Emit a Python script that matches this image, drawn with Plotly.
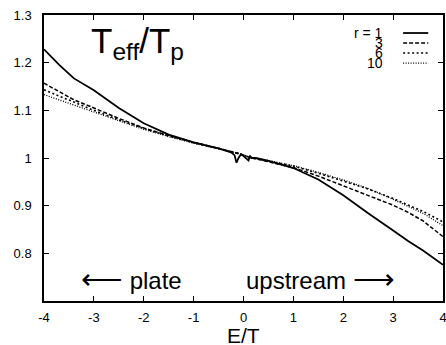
import plotly.graph_objects as go

# E/T grid (shared)
E = [-4, -3.7, -3.4, -3, -2.5, -2, -1.5, -1, -0.5, -0.25, -0.18, -0.14, -0.1, -0.05,
     0, 0.05, 0.1, 0.13, 0.16, 0.25, 0.5, 1, 1.5, 2, 2.5, 3, 3.3, 3.6, 4]

r1 = [1.228, 1.196, 1.167, 1.142, 1.105, 1.073, 1.049, 1.033, 1.020, 1.012, 1.006, 0.990, 1.000, 1.008,
      1.004, 1.000, 0.995, 1.005, 1.000, 1.000, 0.994, 0.979, 0.955, 0.922, 0.884, 0.848, 0.826, 0.806, 0.776]
r3 = [1.157, 1.140, 1.122, 1.105, 1.083, 1.063, 1.047, 1.033, 1.021, 1.014, 1.012, 1.011, 1.010, 1.008,
      1.006, 1.004, 1.002, 1.001, 1.000, 0.998, 0.992, 0.980, 0.962, 0.942, 0.922, 0.901, 0.886, 0.868, 0.835]
r6 = [1.143, 1.130, 1.117, 1.100, 1.080, 1.062, 1.046, 1.032, 1.020, 1.014, 1.012, 1.011, 1.010, 1.008,
      1.006, 1.004, 1.002, 1.001, 1.000, 0.999, 0.994, 0.983, 0.968, 0.952, 0.935, 0.915, 0.902, 0.888, 0.866]
r10 = [1.133, 1.122, 1.111, 1.096, 1.078, 1.060, 1.045, 1.031, 1.019, 1.013, 1.011, 1.010, 1.009, 1.007,
       1.006, 1.004, 1.002, 1.001, 1.000, 0.999, 0.995, 0.984, 0.970, 0.954, 0.936, 0.913, 0.899, 0.884, 0.858]

legend_labels = ["r = 1", "3", "6", "10"]
x_ticks = [-4, -3, -2, -1, 0, 1, 2, 3, 4]
y_ticks = [0.8, 0.9, 1.0, 1.1, 1.2, 1.3]
y_tick_text = ["0.8", "0.9", "1", "1.1", "1.2", "1.3"]

FONT = "Liberation Sans, Arial, Helvetica, sans-serif"
series = [r1, r3, r6, r10]
styles = [dict(dash="solid", width=1.8),
          dict(dash="4px,2px", width=1.5),
          dict(dash="2px,2.5px", width=1.6),
          dict(dash="1px,1.5px", width=1.3)]

fig = go.Figure()
for vals, st, lab in zip(series, styles, legend_labels):
    fig.add_trace(go.Scatter(x=E, y=vals, mode="lines", name=lab,
                             line=dict(color="black", **st), showlegend=False))

# manual legend (text right-aligned, sample to its right)
leg_y0 = 0.937
leg_dy = 0.035
for i, (lab, st) in enumerate(zip(legend_labels, styles)):
    yy = leg_y0 - i * leg_dy
    fig.add_annotation(xref="paper", yref="paper", x=0.855, y=yy, text=lab,
                       showarrow=False, xanchor="right", yanchor="middle",
                       height=10, valign="middle",
                       font=dict(family=FONT, size=14, color="black"))
    fig.add_shape(type="line", xref="paper", yref="paper", x0=0.90, x1=0.963,
                  y0=yy, y1=yy, line=dict(color="black", **st))

fig.add_annotation(xref="paper", yref="paper", x=0.113, y=0.987,
                   text="T<sub>eff</sub>/T<sub>p</sub>", showarrow=False,
                   xanchor="left", yanchor="top",
                   font=dict(family=FONT, size=35, color="black"))
ARW = '<span style="font-size:29px">%s</span>'
fig.add_annotation(xref="paper", yref="paper", x=0.088, y=0.077,
                   text=(ARW % "⟵") + " plate", showarrow=False, xanchor="left", yanchor="middle",
                   font=dict(family=FONT, size=24, color="black"))
fig.add_annotation(xref="paper", yref="paper", x=0.5, y=0.077,
                   text="upstream " + (ARW % "⟶"), showarrow=False, xanchor="left", yanchor="middle",
                   font=dict(family=FONT, size=24, color="black"))
fig.add_annotation(xref="paper", yref="paper", x=0.5, y=-0.076,
                   text="E/T", showarrow=False, xanchor="center", yanchor="top",
                   height=20, valign="middle",
                   font=dict(family=FONT, size=21, color="black"))

axis_common = dict(showgrid=False, zeroline=False, showline=True, linecolor="black",
                   linewidth=1.5, mirror="ticks", ticks="inside", ticklen=5,
                   tickwidth=1, tickcolor="black", automargin=False,
                   ticklabeloverflow="allow",
                   tickfont=dict(family=FONT, size=13, color="black"))

fig.update_xaxes(range=[-4, 4], tickvals=x_ticks, ticktext=[str(v) for v in x_ticks],
                 ticklabelstandoff=4, **axis_common)
fig.update_yaxes(range=[0.7, 1.3], tickvals=y_ticks, ticktext=y_tick_text,
                 ticklabelstandoff=8, **axis_common)

fig.update_layout(width=446, height=345, margin=dict(l=44, r=3, t=15, b=44),
                  plot_bgcolor="white", paper_bgcolor="white", showlegend=False)

fig.write_html("out.html", config={"displayModeBar": False},
               post_script="document.body.style.margin='0';document.body.style.overflow='hidden';")
